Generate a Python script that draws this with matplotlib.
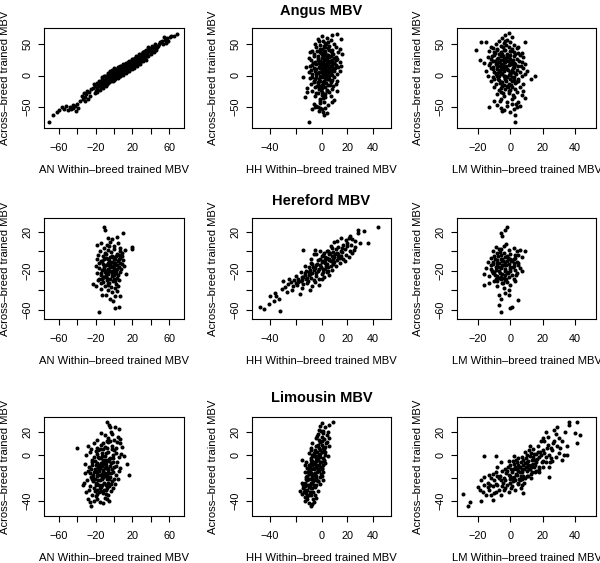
import matplotlib
matplotlib.use('Agg')
import matplotlib.pyplot as plt

plt.rcParams['font.family'] = ['Liberation Sans', 'DejaVu Sans']

# (within-breed MBV, across-breed MBV) pairs
angus_an = [
    (-71, -75), (-66, -63), (-62, -58), (-60, -55), (-56, -50), (-54, -53), (-52, -48), (-50, -55),
    (-48, -50), (-47, -54), (-45, -47), (-44, -52), (-42, -49), (-41, -56), (-40, -46), (-39, -52),
    (-37, -40), (-35, -33), (-34, -37), (-33, -28), (-32, -41), (-31, -35), (-30, -30), (-29, -25),
    (-28, -38), (-27, -27), (-26, -33), (-25, -22),
    (-23, -20), (-21, -28), (-22, -14), (-20, -24), (-19, -12), (-18, -22), (-17, -17), (-18, -27),
    (-16, -8), (-15, -10), (-14, -19), (-16, -13), (-13, -5), (-15, -23), (-12, -12), (-12, -8),
    (-11, -15), (-13, -3), (-10, -12), (-12, -20), (-9, -10), (-11, -1), (-9, -5), (-8, -13),
    (-10, 0), (-7, -8), (-9, -16), (-6, -3), (-8, -10), (-7, 4), (-6, -2), (-5, -9), (-7, 3),
    (-4, -5), (-6, -12), (-3, 1), (-5, -6), (-4, 7), (-5, -11), (-3, 0), (-2, -5), (-4, 5),
    (-1, -2), (-3, -9), (-2, 3), (0, -6), (-2, 9), (-1, -1), (0, 2), (1, -3), (-1, 6), (2, 0),
    (0, -7), (1, 9), (2, 4), (-1, -9), (1, 1), (0, 12), (3, 5), (4, 0), (2, 8), (3, 2), (4, -4),
    (2, 11), (5, 6), (3, -2), (4, 14), (5, 3), (6, 7), (7, 2), (5, 10), (6, 4), (7, -1), (5, 13),
    (8, 8), (6, 0), (7, 16), (8, 5), (9, 10), (10, 4), (8, 13), (9, 7), (10, 1), (8, 16), (11, 9),
    (9, 3), (10, 18), (11, 12), (12, 12), (13, 7), (11, 15), (12, 10), (13, 4), (12, 18), (14, 13),
    (12, 6), (13, 20), (14, 9), (15, 15), (16, 10), (14, 18), (15, 12), (16, 7), (15, 21), (17, 16),
    (15, 8), (16, 23), (17, 13), (18, 18), (19, 12), (17, 21), (18, 15), (19, 10), (18, 24),
    (20, 19), (18, 13), (19, 27), (21, 20), (22, 15), (20, 24), (21, 18), (22, 12), (21, 27),
    (23, 22), (21, 16), (24, 24), (25, 18), (23, 28), (24, 21), (25, 16), (24, 31), (26, 25),
    (27, 27), (28, 21), (26, 30), (27, 24), (28, 19), (27, 34), (29, 28), (30, 30), (31, 24),
    (29, 34), (30, 27), (31, 37), (32, 29), (33, 33), (34, 28), (32, 37), (33, 30), (34, 40),
    (35, 25), (36, 36), (37, 31), (35, 41), (36, 34), (37, 45), (39, 40), (40, 35), (38, 44),
    (40, 38), (42, 42), (43, 38), (41, 47), (43, 40), (45, 45), (46, 41), (44, 50), (46, 44),
    (48, 48), (49, 51), (47, 45), (50, 53), (52, 55), (53, 50), (51, 53), (55, 57), (56, 52),
    (54, 61), (58, 60), (59, 55), (61, 62), (62, 64), (65, 64), (68, 67),
    (-8.5, -6.5), (-6.5, -9.5), (-4.5, -1.5), (-2.5, -7.5), (-0.5, 3.5), (1.5, -5.5), (3.5, 8.5),
    (5.5, 1.5), (7.5, 10.5), (9.5, 5.5), (11.5, 14.5), (13.5, 10.5), (15.5, 18.5), (17.5, 11.5),
    (19.5, 22.5), (21.5, 14.5), (23.5, 25.5), (25.5, 20.5), (27.5, 30.5), (29.5, 23.5), (31.5, 33.5),
    (33.5, 35.5), (35.5, 30.5), (37.5, 38.5), (39.5, 42.5), (1.5, 5.5), (3.5, -0.5), (5.5, 9.5),
    (7.5, 3.5), (9.5, 13.5), (11.5, 7.5), (13.5, 16.5), (15.5, 11.5), (17.5, 19.5), (19.5, 15.5),
    (21.5, 23.5), (23.5, 17.5), (25.5, 27.5), (27.5, 22.5), (29.5, 31.5), (-10.5, -7.5),
    (-14.5, -15.5), (-18.5, -19.5), (-20.5, -17.5), (0.5, -1.5), (2.5, 2.5), (4.5, 4.5), (6.5, 9.5),
    (8.5, 6.5), (10.5, 11.5), (12.5, 14.5), (14.5, 14.5), (16.5, 16.5), (18.5, 20.5), (20.5, 21.5),
    (22.5, 19.5), (24.5, 26.5), (26.5, 27.5), (28.5, 25.5), (30.5, 31.5), (-3.5, -3.5), (-5.5, -4.5),
    (-7.5, -11.5), (-1.5, 4.5),
]

angus_hh = [
    (0, 63), (8, 65), (12, 67), (4, 60), (-3, 58),
    (-2, 55), (3, 52), (7, 57), (10, 50), (5, 54), (15, 58), (-5, 51), (1, 56),
    (-4, 45), (0, 42), (2, 48), (5, 44), (8, 41), (11, 46), (14, 43), (-7, 40), (3, 40), (6, 47), (-1, 49),
    (-6, 35), (-3, 32), (-1, 38), (1, 31), (3, 36), (5, 33), (7, 39), (9, 34), (11, 30), (13, 37),
    (16, 35), (-9, 38), (0, 34), (4, 30), (2, 39),
    (-8, 25), (-5, 22), (-3, 28), (-1, 24), (0, 21), (2, 27), (4, 23), (6, 29), (8, 25), (10, 20),
    (12, 26), (14, 22), (-10, 28), (1, 29), (5, 20), (3, 25), (-2, 20), (7, 22),
    (-9, 15), (-6, 12), (-4, 18), (-2, 14), (0, 11), (1, 17), (3, 13), (5, 19), (7, 15), (9, 11),
    (11, 17), (13, 13), (15, 16), (-12, 14), (2, 10), (4, 16), (-1, 19), (6, 12), (8, 18), (-7, 17),
    (-10, 5), (-7, 2), (-5, 8), (-3, 4), (-1, 0), (0, 7), (2, 3), (4, 9), (6, 5), (8, 1), (10, 7),
    (12, 3), (14, 8), (-2, 6), (1, 2), (3, 8), (5, 0), (7, 4), (9, 9), (-8, 9),
    (-9, -4), (-6, -8), (-4, -2), (-2, -6), (0, -3), (2, -9), (4, -5), (6, -1), (8, -7), (10, -3),
    (12, -8), (-14, -2), (1, -10), (3, -1), (5, -6), (-1, -8), (-5, -5),
    (-8, -14), (-5, -18), (-3, -12), (-1, -16), (1, -13), (3, -19), (5, -15), (7, -11), (9, -17),
    (11, -14), (-11, -20), (0, -20), (2, -11), (-6, -11),
    (-7, -24), (-4, -28), (-2, -22), (0, -26), (2, -29), (4, -23), (6, -27), (8, -21), (-11, -26),
    (12, -25), (3, -30),
    (-13, -34), (-5, -33), (-1, -37), (3, -35), (7, -32), (10, -39), (0, -31),
    (-6, -46), (-4, -48), (-1, -44), (2, -42), (5, -47), (8, -43), (-3, -50),
    (-7, -53), (-5, -51), (-2, -56), (0, -54), (1, -58), (3, -52), (4, -60), (2, -63), (-1, -52),
    (-10, -74),
    (-4.5, 10.5), (-2.5, 25.5), (-0.5, 5.5), (1.5, 35.5), (3.5, 15.5), (5.5, -5.5), (7.5, 30.5),
    (9.5, 20.5), (0.5, -15.5), (2.5, 45.5), (4.5, 2.5), (6.5, 22.5), (-3.5, 38.5), (-1.5, 12.5),
    (0.5, 28.5), (2.5, -3.5), (4.5, 33.5), (6.5, 8.5), (8.5, 14.5), (-5.5, 30.5), (-2.5, -10.5),
    (1.5, 20.5), (3.5, -12.5), (5.5, 40.5), (7.5, -8.5), (9.5, 27.5), (-0.5, -22.5), (3.5, 5.5),
    (-4.5, 2.5), (0.5, 15.5), (2.5, 32.5), (4.5, 24.5), (-1.5, 42.5), (6.5, -15.5), (8.5, 36.5),
    (-6.5, 20.5), (1.5, 8.5), (-3.5, -17.5), (5.5, 12.5), (-0.5, 35.5), (11.5, 24.5), (10.5, 12.5),
    (-7.5, -2.5), (2.5, 18.5), (0.5, -0.5), (-2.5, -28.5), (4.5, -25.5), (1.5, -35.5), (-1.5, -40.5),
    (3.5, 50.5),
]

angus_lm = [
    (-3, 65), (-1, 68), (-5, 60), (-2, 57), (1, 62), (-7, 56),
    (-18, 53), (-15, 53), (-9, 50), (-6, 47), (-4, 52), (-1, 45), (2, 49), (5, 46), (9, 53), (-12, 46), (0, 54),
    (-21, 41), (-13, 40), (-10, 37), (-8, 43), (-6, 38), (-4, 41), (-2, 35), (0, 40), (2, 37), (4, 44),
    (7, 36), (-11, 44), (-5, 35), (1, 43),
    (-19, 25), (-14, 30), (-12, 27), (-10, 33), (-8, 26), (-6, 31), (-4, 28), (-2, 33), (0, 26),
    (2, 31), (4, 27), (6, 33), (8, 29), (-7, 34), (-3, 25), (-1, 30), (3, 34),
    (-16, 20), (-13, 17), (-11, 23), (-9, 18), (-7, 22), (-5, 16), (-3, 21), (-1, 17), (1, 23),
    (3, 19), (5, 15), (7, 22), (9, 18), (-8, 15), (-4, 24), (0, 20), (2, 16), (-6, 19),
    (-15, 8), (-12, 12), (-10, 6), (-8, 10), (-6, 14), (-4, 7), (-2, 11), (0, 5), (2, 13), (4, 9),
    (6, 6), (8, 12), (10, 8), (-11, 14), (-7, 5), (-3, 13), (1, 9), (-5, 11),
    (-14, 0), (-11, -3), (-9, 3), (-7, -1), (-5, 2), (-3, -4), (-1, 1), (1, -2), (3, 4), (5, -5),
    (7, 0), (13, -5), (15, -1), (9, 3), (-8, 4), (-2, -3), (0, 3), (-4, 0),
    (-12, -9), (-9, -13), (-7, -7), (-5, -11), (-3, -6), (-1, -14), (1, -9), (3, -12), (5, -8),
    (8, -14), (-10, -6), (-4, -15), (2, -7), (-6, -10),
    (-10, -18), (-7, -23), (-5, -17), (-3, -21), (-1, -25), (1, -19), (3, -22), (6, -18), (8, -24),
    (-2, -17), (0, -23),
    (-8, -30), (-4, -33), (-1, -28), (2, -34), (4, -27), (7, -31), (-6, -26),
    (-10, -40), (-6, -38), (-2, -43), (1, -37), (5, -42), (9, -36),
    (-13, -50), (-8, -47), (-6, -52), (-4, -55), (-2, -49), (0, -58), (2, -53), (4, -50), (6, -48),
    (3, -63), (-5, -57), (1, -46), (3, -74),
    (-8.5, 20.5), (-6.5, 8.5), (-4.5, 30.5), (-2.5, 15.5), (-0.5, 2.5), (1.5, 25.5), (3.5, -10.5),
    (-9.5, 35.5), (-7.5, -5.5), (-5.5, 25.5), (-3.5, 40.5), (-1.5, 8.5), (0.5, -15.5), (2.5, 20.5),
    (-10.5, 10.5), (-6.5, -12.5), (-4.5, 18.5), (-2.5, -8.5), (-0.5, 32.5), (1.5, 12.5), (3.5, 2.5),
    (-8.5, -1.5), (-5.5, 4.5), (-3.5, 12.5), (-1.5, 22.5), (0.5, 38.5), (2.5, -2.5), (-7.5, 28.5),
    (-4.5, 45.5), (-2.5, 28.5), (-0.5, -5.5), (1.5, 5.5), (-9.5, 22.5), (-6.5, 15.5), (-3.5, -1.5),
    (-1.5, -18.5), (0.5, 18.5), (-5.5, -20.5), (-8.5, 40.5), (4.5, 35.5), (5.5, 22.5), (6.5, 14.5),
    (-11.5, 30.5), (-12.5, 20.5), (-4.5, -27.5), (-2.5, 48.5), (-3.5, 55.5), (1.5, -30.5),
    (-6.5, -40.5), (3.5, -45.5),
]

hereford_an = [
    (-11, 25), (-10, 22), (10, 19), (19, 4), (20, 2), (-16, -62), (1, -58), (5, -57), (-23, -34),
    (-20, -36), (-13, -45), (-4, -49), (1, -46), (6, -46),
    (-6, 14), (-2, 12), (3, 15), (-14, 8), (-8, 6), (-4, 9), (0, 5), (4, 8), (7, 3), (-18, 6), (-11, 3),
    (-15, 0), (-10, -2), (-6, 1), (-3, -1), (0, 2), (3, -3), (6, 0), (9, -2), (12, 1), (-17, -4),
    (-12, -5), (-1, -6), (2, -5), (5, -4),
    (-19, -8), (-14, -10), (-9, -7), (-5, -9), (-2, -11), (1, -8), (4, -10), (7, -7), (10, -9),
    (-7, -12), (-12, -13), (-4, -6), (0, -12), (3, -14), (6, -12), (9, -13),
    (-20, -15), (-16, -17), (-11, -16), (-7, -18), (-3, -15), (0, -17), (2, -19), (5, -16), (8, -18),
    (11, -15), (-9, -20), (-5, -14), (-1, -20), (-13, -19),
    (-18, -22), (-14, -24), (-10, -21), (-6, -23), (-2, -25), (1, -22), (4, -24), (7, -21), (13, -23),
    (-8, -27), (-4, -20), (-12, -26), (3, -27), (0, -28), (-16, -28),
    (-17, -30), (-12, -32), (-8, -30), (-5, -33), (-1, -31), (2, -34), (5, -30), (-10, -36), (-3, -37),
    (1, -38), (-7, -35), (4, -36), (-14, -39), (-6, -40), (-2, -42), (3, -41), (-9, -45), (-1, -51),
    (-12.5, -10.5), (-8.5, -14.5), (-4.5, -16.5), (-0.5, -14.5), (-6.5, -20.5), (-2.5, -22.5),
    (1.5, -12.5), (-10.5, -18.5), (-14.5, -22.5), (-6.5, -8.5), (-2.5, -4.5), (2.5, -22.5),
    (-8.5, -24.5), (-4.5, -28.5), (-0.5, -24.5), (3.5, -18.5), (-12.5, -28.5), (-8.5, -2.5),
    (-4.5, -12.5), (0.5, -8.5), (-16.5, -12.5), (-10.5, -8.5), (-6.5, -32.5), (-2.5, -16.5),
    (1.5, -30.5), (5.5, -8.5), (-14.5, -32.5), (-10.5, -26.5), (8.5, -4.5), (-5.5, 5.5),
]

hereford_hh = [
    (44, 25), (33, 21), (28, 22), (28, 19), (30, 8), (36, 8), (22, 16), (24, -2), (-48, -57),
    (-45, -59), (-41, -54), (-40, -46), (-35, -46), (-33, -49), (-32, -61), (-31, -39), (-26, -34),
    (-28, -37), (-24, -32), (-22, -36), (-20, -33), (-18, -28), (-20, -25), (-16, -31), (-14, -26),
    (-15, -38), (-17, -44), (-12, -29), (-13, -22), (-11, -33), (-10, -24), (-9, -19), (-8, -27),
    (-7, -22), (-6, -30), (-5, -17), (-4, -25), (-3, -20), (-2, -28), (-1, -14), (0, -23), (1, -18),
    (2, -26), (3, -12), (4, -21), (5, -16), (6, -24), (7, -10), (8, -19), (9, -13), (10, -6),
    (11, -15), (12, -9), (13, -3), (14, -12), (15, -5), (16, -1), (17, -8), (18, 2), (19, -4),
    (20, 5), (21, -6), (23, 6), (25, 1), (26, 10), (15, 13), (12, 10), (8, 3), (5, 0), (3, -6),
    (0, -11), (-3, -9), (-6, -3), (-8, -12), (-10, -16), (-12, -20), (-7, -36), (-5, -32), (-2, -35),
    (-14, -34), (-9, -40), (-4, -14), (-1, -8), (2, -2), (4, -7), (6, -3), (9, -1), (11, 2), (13, 4),
    (17, 6), (19, 11), (21, 14), (14, -7), (10, -11), (7, -15), (4, -13), (1, -10), (-2, -18),
    (-6, -19), (-9, -23), (-11, -27), (-15, -30), (-19, -35), (-23, -40), (-25, -29), (0, -29),
    (3, -18), (6, -9), (8, -5), (12, -2), (16, 3), (18, -10), (22, 0), (-4, -3), (1, -4), (5, -20),
    (9, -8), (-16, -21), (-21, -30), (-27, -42), (-37, -51), (-36, -43), (-30, -31), (-13, -15),
    (-8, -8), (-1, 0), (7, 5), (10, 9), (15, 0), (20, 8), (24, 12), (26, 4), (-14, 1), (-5, 1),
    (-12.5, -24.5), (-9.5, -21.5), (-6.5, -16.5), (-3.5, -13.5), (-0.5, -16.5), (2.5, -9.5),
    (5.5, -8.5), (8.5, -10.5), (-15.5, -26.5), (-18.5, -31.5), (-4.5, -22.5), (0.5, -4.5),
    (3.5, -15.5), (6.5, -1.5), (10.5, -2.5), (12.5, -5.5), (-7.5, -13.5), (-10.5, -30.5),
    (1.5, -21.5), (4.5, 0.5),
]

hereford_lm = [
    (-2, 25), (-3, 22), (-6, 19), (-5, 16), (9, 0), (-16, -23), (-16, -35), (-6, -62), (-7, -55),
    (0, -58), (1, -57), (5, -50), (-1, -45), (-7, -45), (-6, -49),
    (-9, 4), (-7, 2), (-4, 5), (-1, 1), (2, 3), (4, 0), (6, 1), (-11, 0), (-8, -2),
    (-10, -5), (-6, -4), (-3, -6), (0, -3), (3, -7), (5, -4), (7, -6), (-12, -7), (-8, -9), (-5, -8),
    (-2, -10), (1, -9), (4, -11), (-14, -11),
    (-11, -13), (-7, -12), (-4, -14), (-1, -13), (2, -15), (5, -12), (-9, -16), (-6, -17), (-3, -18),
    (0, -16), (3, -19), (6, -17), (-12, -18),
    (-10, -21), (-7, -20), (-5, -23), (-2, -21), (1, -24), (4, -22), (7, -20), (-13, -25), (-8, -25),
    (-4, -27), (-1, -26), (2, -28), (-11, -22), (-6, -29),
    (-10, -31), (-5, -33), (-2, -32), (0, -35), (3, -31), (-8, -36), (-4, -38), (-1, -40), (-13, -33),
    (-3, -43), (-9, -28), (-5, -14), (-2, -5), (-8, -15), (-3, -11), (-12, -14), (-15, -17), (-6, -8),
    (-4, -2), (2, -12), (0, -20), (-7, -27), (-3, -30), (-5, -10), (0, -8), (3, -4), (-9, -19),
    (-8.5, -12.5), (-5.5, -16.5), (-2.5, -14.5), (0.5, -10.5), (-6.5, -22.5), (-3.5, -24.5),
    (-0.5, -18.5), (-9.5, -8.5), (-7.5, -4.5), (-4.5, -10.5), (-1.5, -6.5), (1.5, -16.5),
    (-11.5, -20.5), (-8.5, -30.5), (-5.5, -26.5), (-2.5, -28.5), (3.5, -24.5), (-6.5, -0.5),
    (-3.5, -20.5), (-10.5, -11.5), (-7.5, -16.5), (-4.5, -32.5), (2.5, -8.5), (-1.5, -22.5),
    (4.5, -14.5), (-9.5, -24.5), (-5.5, 2.5), (-2.5, 7.5),
]

limousin_an = [
    (-40, 6), (16, -17), (14, -8), (-8, 29), (-5, 26), (-4, 24), (1, 24), (5, 23), (-25, -44),
    (-15, -41), (-8, -38), (-34, -26),
    (-14, 19), (-10, 17), (-6, 15), (-2, 18), (0, 13), (4, 16), (7, 14), (-18, 13), (-3, 20), (-8, 12),
    (-28, 8), (-22, 10), (-18, 6), (-14, 9), (-10, 7), (-6, 11), (-2, 8), (2, 6), (6, 10), (9, 7),
    (-25, 5), (-12, 5), (3, 11),
    (-30, 0), (-26, 3), (-22, -2), (-19, 1), (-16, -3), (-13, 2), (-10, -1), (-7, 3), (-4, -3),
    (-1, 0), (2, 2), (5, -2), (8, 1), (11, -1), (-24, -4), (-17, 4), (-9, -4), (0, 4),
    (-31, -8), (-27, -10), (-24, -6), (-21, -12), (-18, -7), (-15, -11), (-12, -5), (-9, -9),
    (-6, -12), (-3, -7), (0, -10), (3, -6), (6, -11), (-20, -9), (-11, -8), (-14, -7), (-5, -5),
    (-8, -11), (-1, -6), (-16, -12),
    (-32, -16), (-28, -14), (-25, -19), (-22, -15), (-19, -18), (-16, -14), (-13, -20), (-10, -16),
    (-7, -13), (-4, -19), (-1, -15), (2, -17), (5, -14), (-23, -20), (-12, -13), (-18, -16),
    (-8, -18), (-15, -17), (-5, -16),
    (-33, -24), (-29, -22), (-26, -27), (-23, -23), (-20, -26), (-17, -22), (-14, -28), (-11, -24),
    (-8, -21), (-5, -27), (-2, -23), (1, -25), (-18, -25), (-13, -21), (-9, -26), (-24, -21),
    (-30, -32), (-27, -30), (-24, -35), (-21, -31), (-18, -34), (-15, -29), (-12, -33), (-9, -30),
    (-6, -35), (-3, -31), (-20, -36), (-16, -32),
    (-28, -38), (-22, -40), (-18, -38), (-12, -42), (-10, -37), (-5, -40), (-26, -41),
    (-20.5, -5.5), (-17.5, -10.5), (-14.5, -2.5), (-11.5, -14.5), (-8.5, -6.5), (-5.5, -20.5),
    (-2.5, -12.5), (-22.5, -17.5), (-19.5, -24.5), (-16.5, -8.5), (-13.5, -26.5), (-10.5, -4.5),
    (-7.5, -28.5), (-4.5, -9.5), (-1.5, -2.5), (-21.5, -28.5), (-18.5, -13.5), (-15.5, -21.5),
    (-12.5, -9.5), (-9.5, -18.5), (-6.5, -24.5), (-3.5, -15.5), (0.5, -20.5), (-24.5, -12.5),
    (-17.5, -1.5), (-14.5, -31.5), (-11.5, -19.5), (-8.5, 1.5), (-5.5, -3.5), (-2.5, 5.5),
    (-23.5, -8.5), (-20.5, -20.5), (-16.5, -26.5), (-12.5, -0.5), (-9.5, -11.5), (-6.5, -15.5),
    (-3.5, -25.5), (-13.5, -16.5), (-10.5, -30.5), (-7.5, 6.5), (-18.5, -30.5), (-15.5, 5.5),
    (-4.5, 12.5), (-1.5, -28.5), (2.5, -9.5), (-26.5, -15.5), (-11.5, 10.5), (-8.5, -33.5),
    (4.5, -20.5), (-19.5, 3.5),
]

limousin_hh = [
    (9, 29), (6, 26), (0, 28), (3, 24), (1, 21), (-2, 22), (5, 20), (-1, 25),
    (-3, 18), (0, 16), (2, 14), (4, 17), (-2, 13), (1, 19), (6, 15), (-4, 15),
    (-7, 10), (-4, 8), (-2, 6), (0, 9), (2, 5), (4, 11), (-5, 4), (-1, 11), (3, 7), (-8, 6), (6, 8),
    (-10, 2), (-7, 0), (-5, 3), (-3, -2), (-1, 1), (1, -3), (3, 0), (5, -1), (-8, -4), (-4, -1),
    (0, 3), (-15, -4), (-6, 2), (2, -4), (-2, 0),
    (-12, -6), (-9, -10), (-7, -5), (-5, -8), (-3, -12), (-1, -6), (1, -9), (3, -7), (-11, -11),
    (-6, -11), (-4, -5), (0, -11), (-8, -7), (-2, -9), (2, -5), (-13, -9),
    (-13, -15), (-11, -18), (-9, -14), (-7, -20), (-5, -16), (-3, -13), (-1, -19), (1, -15),
    (-10, -13), (-6, -17), (-4, -20), (-8, -16), (-2, -14), (-12, -19), (0, -18),
    (-15, -24), (-13, -27), (-11, -22), (-9, -26), (-7, -21), (-5, -28), (-3, -23), (-1, -25),
    (-12, -21), (-8, -24), (-6, -26), (-10, -28), (-4, -22), (1, -22),
    (-17, -31), (-15, -34), (-13, -30), (-11, -36), (-9, -32), (-7, -29), (-5, -35), (-3, -31),
    (-12, -33), (-8, -35), (-14, -29),
    (-13, -40), (-8, -44), (-11, -38), (-6, -41), (-10, -42), (-4, -37),
    (-6.5, -6.5), (-4.5, -2.5), (-8.5, -12.5), (-3.5, -8.5), (-9.5, -20.5), (-6.5, -16.5),
    (-2.5, -4.5), (-7.5, -24.5), (-10.5, -26.5), (-5.5, -12.5), (-1.5, 4.5), (-4.5, -18.5),
    (-11.5, -30.5), (-8.5, -28.5), (-6.5, -22.5), (-3.5, -14.5), (-0.5, -6.5), (-7.5, -8.5),
    (-5.5, -0.5), (-2.5, 8.5), (-9.5, -16.5), (-12.5, -24.5), (-4.5, -26.5), (-1.5, -10.5),
    (0.5, 12.5), (-6.5, -32.5), (-8.5, -2.5), (-3.5, 2.5), (-10.5, -14.5), (-5.5, -20.5),
    (-0.5, -16.5), (-7.5, -18.5), (-2.5, -22.5), (1.5, 6.5), (-4.5, -10.5), (-11.5, -20.5),
    (-13.5, -32.5), (-9.5, -34.5), (-6.5, -38.5), (-1.5, -1.5), (0.5, -12.5), (2.5, 2.5),
    (-3.5, 16.5), (-0.5, 20.5), (3.5, 10.5), (-14.5, -26.5), (-12.5, -36.5), (-7.5, -42.5),
    (-9.5, -8.5), (-8.5, 4.5),
]

limousin_lm = [
    (-29, -34), (-25, -41), (-26, -44), (-18, -40), (-11, -39), (41, 29), (36, 29), (36, 26),
    (43, 17), (40, 19), (41, 10), (35, 0), (29, 24), (24, -19), (8, -33), (-16, -1), (-9, -1),
    (-20, -28), (-18, -22), (-17, -32), (-16, -26), (-15, -35), (-19, -30), (-16, -19),
    (-14, -24), (-13, -30), (-12, -20), (-11, -27), (-10, -33), (-13, -17), (-12, -35), (-10, -22),
    (-14, -28), (-9, -25), (-8, -18), (-7, -30), (-6, -22), (-5, -14), (-9, -32), (-7, -20),
    (-5, -27), (-8, -10), (-6, -35), (-9, -15),
    (-4, -20), (-3, -12), (-2, -26), (-1, -17), (0, -9), (-4, -30), (-3, -22), (-1, -5), (0, -24),
    (-2, -14), (-1, -32), (0, -18),
    (1, -15), (2, -8), (3, -22), (4, -12), (5, -3), (1, -27), (2, -19), (3, -10), (4, -17), (5, -25),
    (2, -1), (3, -30), (4, -6), (1, -20), (5, -14),
    (6, -10), (7, -2), (8, -18), (9, -7), (10, -14), (6, -22), (7, -12), (8, -4), (9, -20), (10, 0),
    (6, -15), (7, -26), (8, -9), (9, 3), (10, -10),
    (11, -5), (12, -12), (13, 2), (14, -8), (15, -15), (11, -18), (12, -1), (13, -10), (14, 5),
    (15, -4), (11, -9), (13, -20), (14, -2), (12, 8),
    (16, -6), (17, 3), (18, -10), (19, 0), (20, -5), (16, -14), (17, 8), (18, -2), (19, 12), (20, 4),
    (16, 1), (18, -15), (20, 15),
    (21, 2), (22, -6), (23, 9), (24, 0), (25, 6), (21, 12), (22, -2), (23, 16), (24, -10), (25, -3),
    (22, 20),
    (26, 4), (27, 12), (28, -2), (29, 8), (30, 15), (26, -5), (28, 18), (30, 2), (27, 22),
    (31, 6), (32, 12), (33, 0), (34, 20), (35, 8), (32, -4),
    (-2.5, -15.5), (0.5, -12.5), (2.5, -20.5), (4.5, -8.5), (6.5, -18.5), (8.5, -12.5),
    (10.5, -6.5), (12.5, -16.5), (14.5, -10.5), (16.5, -3.5), (-4.5, -24.5), (-0.5, -20.5),
    (1.5, -5.5), (3.5, -16.5), (5.5, -10.5), (7.5, -20.5), (9.5, -2.5), (11.5, -12.5), (13.5, -4.5),
    (15.5, -8.5), (17.5, -12.5), (19.5, -6.5), (-6.5, -18.5), (-1.5, -10.5), (2.5, -12.5),
    (4.5, -24.5), (6.5, -6.5), (8.5, -24.5), (10.5, -18.5), (12.5, -8.5), (14.5, 0.5), (18.5, 2.5),
    (-8.5, -26.5), (-3.5, -28.5), (0.5, -28.5), (3.5, -4.5), (5.5, -20.5), (7.5, -14.5),
    (9.5, -10.5), (11.5, 4.5), (13.5, -14.5), (22.5, 6.5), (24.5, -6.5), (26.5, 10.5),
    (20.5, -10.5), (-10.5, -16.5), (-12.5, -26.5), (-5.5, -6.5), (1.5, -22.5), (6.5, -28.5),
]

panels = [
    [angus_an, angus_hh, angus_lm],
    [hereford_an, hereford_hh, hereford_lm],
    [limousin_an, limousin_hh, limousin_lm],
]
titles = ['Angus MBV', 'Hereford MBV', 'Limousin MBV']
x_names = ['AN', 'HH', 'LM']

x_lims = [(-76, 76), (-54, 54), (-33, 53)]
x_ticks = [[-60, -40, -20, 0, 20, 40, 60], [-40, -20, 0, 20, 40], [-20, 0, 20, 40]]
x_shown = [[-60, -20, 20, 60], [-40, 0, 20, 40], [-20, 0, 20, 40]]
y_lims = [(-84, 76), (-69.5, 34), (-53, 33)]
y_ticks = [[-50, 0, 50], [-60, -40, -20, 0, 20], [-40, -20, 0, 20]]
y_shown = [[-50, 0, 50], [-60, -20, 20], [-40, 0, 20]]

# panel boxes in pixels of the 600x563 figure
W, H = 600, 563
col_left = [44, 252, 457]
col_w = [140, 139, 139]
row_top = [28, 218, 417]
row_h = [100, 101, 99]
title_pad = [9.5, 9.5, 11]


def fmt(v, shown):
    return str(v).replace('-', '\u2212') if v in shown else ''


fig = plt.figure(figsize=(W / 100, H / 100), dpi=100)

for r in range(3):
    for c in range(3):
        box = [col_left[c] / W, 1 - (row_top[r] + row_h[r]) / H, col_w[c] / W, row_h[r] / H]
        ax = fig.add_axes(box)
        pts = panels[r][c]
        xs = [p[0] for p in pts]
        ys = [p[1] for p in pts]
        ax.plot(xs, ys, 'o', color='black', markersize=2.9, markeredgewidth=0)
        ax.set_xlim(*x_lims[c])
        ax.set_ylim(*y_lims[r])
        ax.set_xticks(x_ticks[c])
        ax.set_xticklabels([fmt(v, x_shown[c]) for v in x_ticks[c]])
        ax.set_yticks(y_ticks[r])
        ax.set_yticklabels([fmt(v, y_shown[r]) for v in y_ticks[r]], rotation=90, va='center')
        ax.tick_params(direction='out', length=4.5, width=0.8, labelsize=7.8)
        ax.tick_params(axis='x', pad=6.5)
        ax.tick_params(axis='y', pad=4)
        for s in ax.spines.values():
            s.set_linewidth(0.8)
        ax.set_xlabel(x_names[c] + ' Within\u2013breed trained MBV', fontsize=8.1)
        ax.xaxis.label.set_va('center')
        ax.xaxis.set_label_coords(0.5, -42 / row_h[r])
        ax.set_ylabel('Across\u2013breed trained MBV', fontsize=8.1)
        ax.yaxis.label.set_va('center')
        ax.yaxis.set_label_coords(-39 / col_w[c], 0.5)
        if c == 1:
            ax.set_title(titles[r], fontsize=10.5, fontweight='bold', pad=title_pad[r])

fig.savefig('out.png', dpi=100)
